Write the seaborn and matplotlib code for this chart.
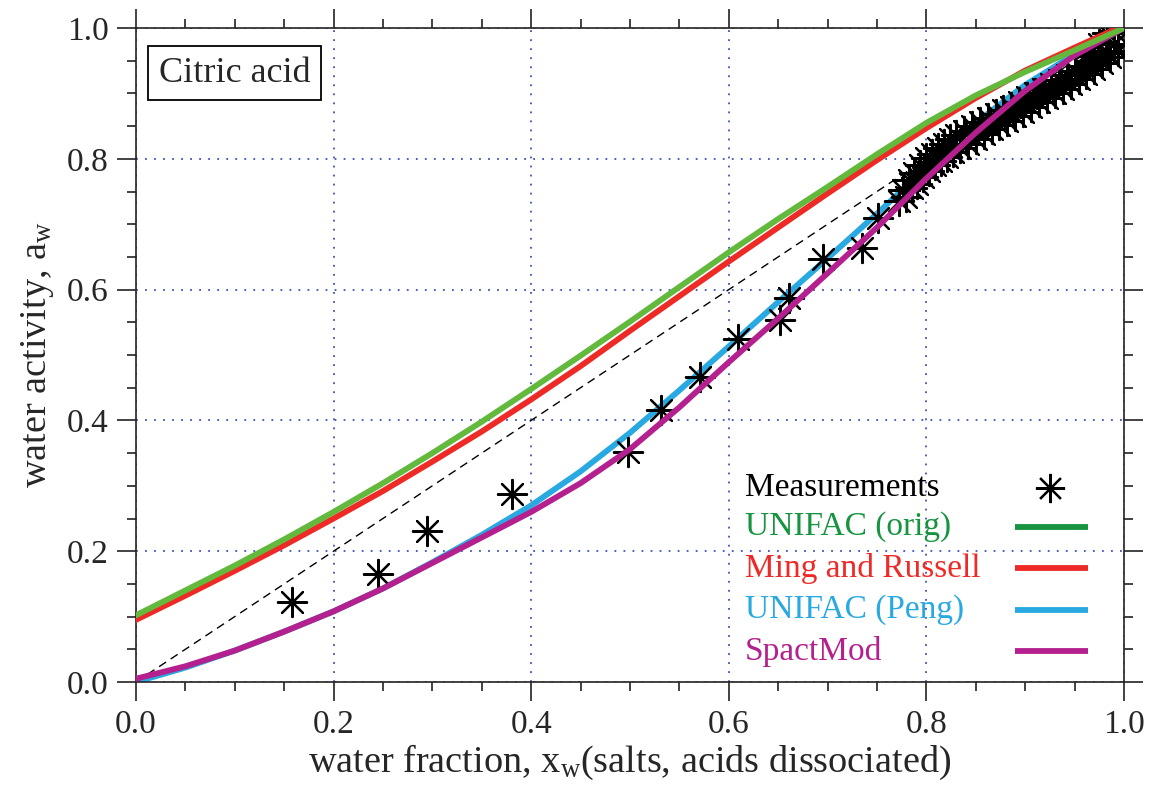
import numpy as np
import pandas as pd
import matplotlib
matplotlib.use("Agg")
import matplotlib.pyplot as plt
from matplotlib.ticker import MultipleLocator
import seaborn as sns

# --- data ---
x_grid = [0.00, 0.05, 0.10, 0.15, 0.20, 0.25, 0.30, 0.35, 0.40, 0.45, 0.50,
          0.55, 0.60, 0.65, 0.70, 0.75, 0.80, 0.85, 0.90, 0.95, 1.00]

unifac_orig = [0.102, 0.140, 0.178, 0.218, 0.260, 0.304, 0.350, 0.398, 0.448, 0.499, 0.551,
               0.604, 0.657, 0.708, 0.757, 0.807, 0.855, 0.897, 0.933, 0.966, 1.000]

ming_x = [0.00, 0.05, 0.10, 0.15, 0.20, 0.25, 0.30, 0.35, 0.40, 0.45, 0.50,
          0.55, 0.60, 0.65, 0.70, 0.75, 0.80, 0.85, 0.90, 0.95, 0.994]
ming_russell = [0.095, 0.132, 0.170, 0.209, 0.250, 0.292, 0.337, 0.383, 0.432, 0.483, 0.537,
                0.590, 0.643, 0.695, 0.747, 0.798, 0.847, 0.893, 0.935, 0.970, 1.000]

unifac_peng = [0.000, 0.022, 0.048, 0.077, 0.108, 0.143, 0.183, 0.225, 0.270, 0.322, 0.381,
               0.446, 0.513, 0.581, 0.648, 0.716, 0.787, 0.855, 0.913, 0.960, 1.000]

spactmod = [0.005, 0.024, 0.048, 0.077, 0.108, 0.143, 0.182, 0.221, 0.260, 0.304, 0.356,
            0.420, 0.489, 0.556, 0.625, 0.695, 0.770, 0.840, 0.904, 0.958, 1.000]

ideal = [0.0, 1.0]

meas_x = [0.158, 0.245, 0.295, 0.381, 0.498, 0.531, 0.571, 0.609, 0.652, 0.661,
          0.695, 0.735, 0.751,
          0.772, 0.776, 0.779, 0.782, 0.785, 0.788, 0.791, 0.794, 0.797, 0.800,
          0.803, 0.806, 0.809, 0.812, 0.815, 0.818, 0.821, 0.824, 0.827, 0.830,
          0.834, 0.838, 0.842, 0.846, 0.850, 0.854, 0.858, 0.862, 0.866, 0.870,
          0.874, 0.878, 0.882, 0.886, 0.890, 0.894, 0.898, 0.902, 0.906, 0.910,
          0.914, 0.918, 0.922, 0.926, 0.930, 0.934, 0.938, 0.942, 0.946, 0.950,
          0.954, 0.958, 0.962, 0.966, 0.970, 0.974, 0.978, 0.982, 0.986, 0.990,
          0.994, 0.960, 0.975, 0.983, 0.990]
meas_y = [0.122, 0.165, 0.231, 0.287, 0.352, 0.416, 0.466, 0.524, 0.553, 0.587,
          0.647, 0.664, 0.709,
          0.735, 0.752, 0.742, 0.768, 0.755, 0.778, 0.762, 0.790, 0.772, 0.801,
          0.781, 0.808, 0.790, 0.816, 0.796, 0.822, 0.803, 0.830, 0.810, 0.836,
          0.817, 0.843, 0.823, 0.850, 0.830, 0.856, 0.838, 0.862, 0.845, 0.868,
          0.852, 0.874, 0.858, 0.880, 0.866, 0.887, 0.872, 0.894, 0.880, 0.900,
          0.887, 0.907, 0.893, 0.914, 0.900, 0.921, 0.907, 0.928, 0.915, 0.935,
          0.922, 0.942, 0.930, 0.950, 0.938, 0.957, 0.946, 0.965, 0.955, 0.975,
          0.965, 0.958, 0.975, 0.992, 0.995]

legend_labels = ["Measurements", "UNIFAC (orig)", "Ming and Russell", "UNIFAC (Peng)", "SpactMod"]

# --- style ---
sns.set_style("ticks")
plt.rcParams["font.family"] = ["Liberation Serif", "DejaVu Serif"]
plt.rcParams["mathtext.default"] = "regular"

c_green = "#62b93c"
c_green_leg = "#16943f"
c_red = "#ee2a26"
c_blue = "#29a9e1"
c_mag = "#b4218f"
c_grid = "#3d52b8"

fig = plt.figure(figsize=(11.58, 7.92), dpi=100)
ax = fig.add_axes([0.1174, 0.1389, 0.8532, 0.8257])

star = (8, 2, 0)

sns.lineplot(x=ideal, y=ideal, ax=ax, color="black", lw=1.0, dashes=False,
             linestyle=(0, (6, 4)), sort=False, estimator=None, zorder=1)
sns.lineplot(x=x_grid, y=unifac_peng, ax=ax, color=c_blue, lw=4.2,
             sort=False, estimator=None, zorder=2)
sns.scatterplot(x=meas_x, y=meas_y, ax=ax, marker=star, s=440, color="black",
                linewidth=1.6, zorder=3)
sns.lineplot(x=x_grid, y=spactmod, ax=ax, color=c_mag, lw=4.2,
             sort=False, estimator=None, zorder=4)
sns.lineplot(x=ming_x, y=ming_russell, ax=ax, color=c_red, lw=4.2,
             sort=False, estimator=None, zorder=5)
sns.lineplot(x=x_grid, y=unifac_orig, ax=ax, color=c_green, lw=4.2,
             sort=False, estimator=None, zorder=6)

ax.set_xlim(0, 1)
ax.set_ylim(0, 1)
ax.xaxis.set_major_locator(MultipleLocator(0.2))
ax.xaxis.set_minor_locator(MultipleLocator(0.05))
ax.yaxis.set_major_locator(MultipleLocator(0.2))
ax.yaxis.set_minor_locator(MultipleLocator(0.05))
ax.xaxis.set_major_formatter(plt.FormatStrFormatter("%.1f"))
ax.yaxis.set_major_formatter(plt.FormatStrFormatter("%.1f"))

ax.tick_params(which="both", direction="out", top=True, right=True,
               labeltop=False, labelright=False, color="#222222", width=1.2)
ax.tick_params(which="major", length=13.5, labelsize=24, pad=6)
ax.tick_params(which="minor", length=6.5)
for sp in ax.spines.values():
    sp.set_visible(True)
    sp.set_linewidth(1.2)
    sp.set_color("#222222")

ax.grid(True, which="major", color=c_grid, linestyle=(0, (1, 4)), linewidth=1.3)
ax.set_axisbelow(True)

ax.set_xlabel(r"water fraction, x$_{w}$(salts, acids dissociated)", fontsize=27.5, labelpad=2)
ax.set_ylabel(r"water activity, a$_{w}$", fontsize=27.5, labelpad=8)

ax.text(0.1, 0.931, "Citric acid", transform=ax.transAxes, fontsize=26,
        ha="center", va="center",
        bbox=dict(boxstyle="square,pad=0.3", fc="white", ec="black", lw=1.3), zorder=10)

# --- legend drawn as text rows with handles on the right ---
leg_colors = ["black", c_green_leg, c_red, c_blue, c_mag]
leg_rows = [0.297, 0.237, 0.174, 0.110, 0.047]
for lab, col, yy in zip(legend_labels, leg_colors, leg_rows):
    ax.text(0.616, yy, lab, transform=ax.transAxes, color=col, fontsize=24,
            ha="left", va="center", zorder=10)
ax.plot([0.925], [leg_rows[0]], transform=ax.transAxes, marker=star, ms=21,
        mew=1.6, color="black", linestyle="none", zorder=10, clip_on=False)
for col, yy in zip(leg_colors[1:], leg_rows[1:]):
    ax.plot([0.890, 0.964], [yy, yy], transform=ax.transAxes, color=col, lw=4.2,
            solid_capstyle="butt", zorder=10)

fig.savefig("out.png", dpi=100)
